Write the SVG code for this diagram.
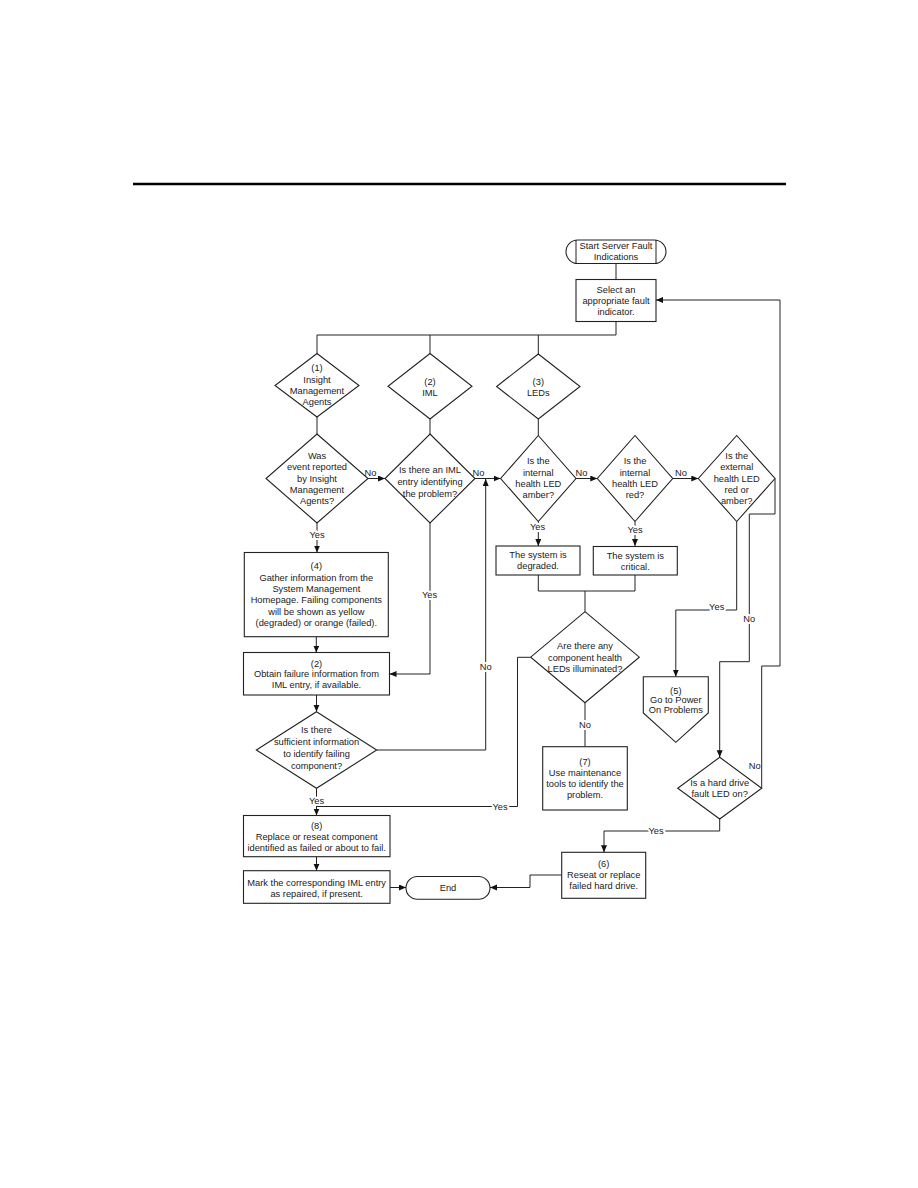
<svg xmlns="http://www.w3.org/2000/svg" width="918" height="1188" viewBox="0 0 918 1188">
<style>
text{font-family:"Liberation Sans",Arial,sans-serif;font-size:9.3px;fill:#1a1a1a;text-anchor:middle}
.shape{fill:#fff;stroke:#222;stroke-width:1.1}
.ln{fill:none;stroke:#222;stroke-width:1}
.arr{marker-end:url(#ah)}
.halo{stroke:#fff;stroke-width:4;stroke-linejoin:round;paint-order:stroke}
</style>
<defs>
<marker id="ah" markerUnits="userSpaceOnUse" markerWidth="8" markerHeight="7" refX="7" refY="3" orient="auto">
<path d="M0,0 L7,3 L0,6 z" fill="#111"/>
</marker>
</defs>
<rect width="918" height="1188" fill="#fff"/>
<line x1="133" y1="184" x2="786" y2="184" stroke="#000" stroke-width="2.5"/>

<g id="connectors">
<path class="ln" d="M616,263.5 V279.5"/>
<path class="ln" d="M616,321.5 V335 H317 V354 M430,335 V354 M538.3,335 V354"/>
<path class="ln" d="M317,417 V434"/>
<path class="ln" d="M430,419 V434"/>
<path class="ln" d="M538.3,419 V435.5"/>
<path class="ln arr" d="M368,478.5 H385"/>
<path class="ln arr" d="M475,478.5 H500.5"/>
<path class="ln arr" d="M576,478.5 H597.3"/>
<path class="ln arr" d="M672.7,478.5 H698.3"/>
<path class="ln arr" d="M317,523 V552.5"/>
<path class="ln arr" d="M316.3,636.7 V652.5"/>
<path class="ln arr" d="M430,523 V674 H389.5"/>
<path class="ln arr" d="M316.5,695 V711.7"/>
<path class="ln arr" d="M376.7,750 H485.7 V479"/>
<path class="ln" d="M530.7,657.3 H517.5 V806.5 H316.5"/>
<path class="ln arr" d="M316.5,788.3 V815.5"/>
<path class="ln arr" d="M316.5,856.7 V870.7"/>
<path class="ln arr" d="M390,887.5 H406"/>
<path class="ln arr" d="M538.3,521.5 V546"/>
<path class="ln arr" d="M635,521.5 V546"/>
<path class="ln" d="M538.3,575 V591 H635 V575 M585,591 V611.7"/>
<path class="ln" d="M585,702.7 V746.7"/>
<path class="ln arr" d="M736.7,521.5 V610 H675.8 V676.7"/>
<path class="ln arr" d="M775,478.5 V514 H749.3 V661.7 H719.7 V757.3"/>
<path class="ln arr" d="M761.7,788.2 V666 H780 V300 H656"/>
<path class="ln arr" d="M719.7,819 V831 H604 V852.3"/>
<path class="ln arr" d="M561.7,875 H530 V887.5 H490"/>
<text x="370.5" y="476.3">No</text>
<text x="478.5" y="476.3">No</text>
<text x="581.5" y="476">No</text>
<text x="681" y="476">No</text>
<text class="halo" x="317" y="538.3">Yes</text>
<text class="halo" x="429.5" y="597.6">Yes</text>
<text class="halo" x="485.7" y="670.3">No</text>
<text class="halo" x="316.5" y="804">Yes</text>
<text class="halo" x="500" y="809.8">Yes</text>
<text class="halo" x="585" y="728.3">No</text>
<text class="halo" x="537.5" y="530.3">Yes</text>
<text class="halo" x="635" y="532.6">Yes</text>
<text class="halo" x="716.7" y="610.3">Yes</text>
<text class="halo" x="749.3" y="621.6">No</text>
<text x="754.7" y="769">No</text>
<text class="halo" x="656" y="834.3">Yes</text>
</g>

<g id="start">
<rect class="shape" x="566" y="240" width="100" height="23.5" rx="11.75"/>
<path class="ln" d="M576,240 V263.5 M656,240 V263.5"/>
<text x="616" y="249">Start Server Fault</text>
<text x="616" y="260">Indications</text>
</g>
<g id="select">
<rect class="shape" x="576" y="279.5" width="80" height="42"/>
<text x="616" y="293.3">Select an</text>
<text x="616" y="304.3">appropriate fault</text>
<text x="616" y="315">indicator.</text>
</g>
<g id="d1">
<polygon class="shape" points="317,353.5 359,385.5 317,417 275,385.5"/>
<text x="317" y="371.3">(1)</text>
<text x="317" y="382.6">Insight</text>
<text x="317" y="394">Management</text>
<text x="317" y="405.3">Agents</text>
</g>
<g id="d2">
<polygon class="shape" points="430,353.5 472,386.3 430,419 388,386.3"/>
<text x="430" y="385.3">(2)</text>
<text x="430" y="396.3">IML</text>
</g>
<g id="d3">
<polygon class="shape" points="538.3,354 580,386.5 538.3,419 496.6,386.5"/>
<text x="538.3" y="385.3">(3)</text>
<text x="538.3" y="396.3">LEDs</text>
</g>
<g id="dWas">
<polygon class="shape" points="317,434 368,478.5 317,523 266,478.5"/>
<text x="317" y="459">Was</text>
<text x="317" y="470.3">event reported</text>
<text x="317" y="481.6">by Insight</text>
<text x="317" y="493">Management</text>
<text x="317" y="504.3">Agents?</text>
</g>
<g id="dIMLq">
<polygon class="shape" points="430,434 475,478.5 430,523 385,478.5"/>
<text x="430" y="473.3">Is there an IML</text>
<text x="430" y="485">entry identifying</text>
<text x="430" y="496.6">the problem?</text>
</g>
<g id="dAmber">
<polygon class="shape" points="538.3,435.5 576,478.5 538.3,521.5 500.6,478.5"/>
<text x="538.3" y="464.3">Is the</text>
<text x="538.3" y="475.6">internal</text>
<text x="538.3" y="487">health LED</text>
<text x="538.3" y="498.3">amber?</text>
</g>
<g id="dRed">
<polygon class="shape" points="635,435.5 672.7,478.5 635,521.5 597.3,478.5"/>
<text x="635" y="464.3">Is the</text>
<text x="635" y="475.6">internal</text>
<text x="635" y="487">health LED</text>
<text x="635" y="498.3">red?</text>
</g>
<g id="dExt">
<polygon class="shape" points="736.7,435.5 775,478.5 736.7,521.5 698.3,478.5"/>
<text x="736.7" y="459">Is the</text>
<text x="736.7" y="470.3">external</text>
<text x="736.7" y="481.6">health LED</text>
<text x="736.7" y="493">red or</text>
<text x="736.7" y="504.3">amber?</text>
</g>
<g id="box4">
<rect class="shape" x="244.3" y="552.5" width="144" height="84.2"/>
<text x="316.3" y="569.3">(4)</text>
<text x="316.3" y="580.6">Gather information from the</text>
<text x="316.3" y="592">System Management</text>
<text x="316.3" y="603.3">Homepage. Failing components</text>
<text x="316.3" y="614.6">will be shown as yellow</text>
<text x="316.3" y="626">(degraded) or orange (failed).</text>
</g>
<g id="box2">
<rect class="shape" x="243.5" y="652.5" width="146" height="42.5"/>
<text x="316.5" y="666.6">(2)</text>
<text x="316.5" y="677.3">Obtain failure information from</text>
<text x="316.5" y="688.3">IML entry, if available.</text>
</g>
<g id="dSuff">
<polygon class="shape" points="316.5,711.7 376.7,750 316.5,788.3 256.3,750"/>
<text x="316.5" y="733.3">Is there</text>
<text x="316.5" y="745.3">sufficient information</text>
<text x="316.5" y="757.3">to identify failing</text>
<text x="316.5" y="769.3">component?</text>
</g>
<g id="box8">
<rect class="shape" x="243.5" y="815.5" width="146.5" height="41.2"/>
<text x="316.7" y="829.3">(8)</text>
<text x="316.7" y="840">Replace or reseat component</text>
<text x="316.7" y="850.6">identified as failed or about to fail.</text>
</g>
<g id="boxMark">
<rect class="shape" x="243.5" y="870.7" width="146.5" height="32.6"/>
<text x="316.7" y="885.6">Mark the corresponding IML entry</text>
<text x="316.7" y="896.6">as repaired, if present.</text>
</g>
<g id="end">
<rect class="shape" x="406" y="876.5" width="84" height="22.8" rx="11.4"/>
<text x="448" y="891.3">End</text>
</g>
<g id="degraded">
<rect class="shape" x="496" y="546" width="84" height="29"/>
<text x="538" y="558.3">The system is</text>
<text x="538" y="569.3">degraded.</text>
</g>
<g id="critical">
<rect class="shape" x="593.3" y="546.5" width="84" height="28.5"/>
<text x="635.3" y="558.6">The system is</text>
<text x="635.3" y="569.6">critical.</text>
</g>
<g id="dComp">
<polygon class="shape" points="585,611.7 639.3,657.2 585,702.7 530.7,657.2"/>
<text x="585" y="649.3">Are there any</text>
<text x="585" y="660.6">component health</text>
<text x="585" y="671.6">LEDs illuminated?</text>
</g>
<g id="box7">
<rect class="shape" x="542.7" y="746.7" width="84.6" height="63.3"/>
<text x="585" y="765">(7)</text>
<text x="585" y="775.6">Use maintenance</text>
<text x="585" y="787">tools to identify the</text>
<text x="585" y="798.3">problem.</text>
</g>
<g id="box5">
<polygon class="shape" points="643.3,676.7 708.3,676.7 708.3,713 675.8,742.3 643.3,713"/>
<text x="675.8" y="693.5">(5)</text>
<text x="675.8" y="703.3">Go to Power</text>
<text x="675.8" y="712.8">On Problems</text>
</g>
<g id="dHD">
<polygon class="shape" points="719.7,757.3 761.7,788.2 719.7,819 677.7,788.2"/>
<text x="719.7" y="785.6">Is a hard drive</text>
<text x="719.7" y="796.6">fault LED on?</text>
</g>
<g id="box6">
<rect class="shape" x="561.7" y="852.3" width="84" height="46"/>
<text x="603.7" y="867.3">(6)</text>
<text x="603.7" y="878.3">Reseat or replace</text>
<text x="603.7" y="889.3">failed hard drive.</text>
</g>
</svg>
